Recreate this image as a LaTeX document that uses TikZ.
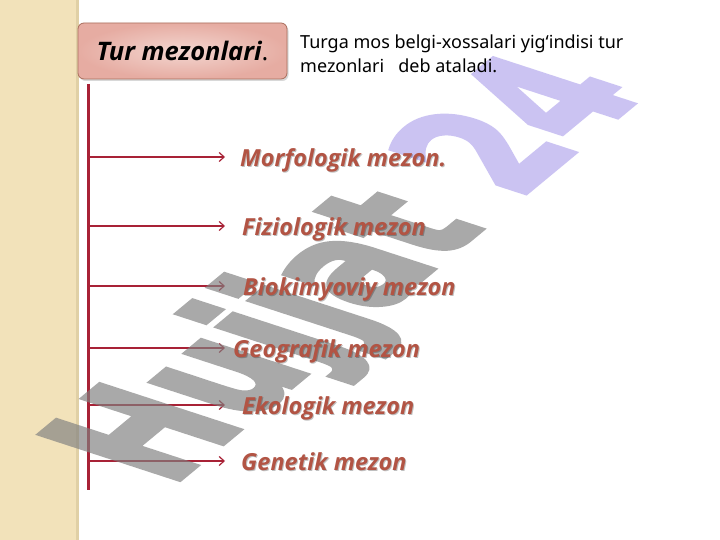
\documentclass[tikz,border=0pt]{standalone}
\usepackage{fontspec}
\setmainfont{Noto Sans}
\newfontfamily\lblfont{Open Sans}
\newfontfamily\wmfont{DejaVu Sans}[FakeBold=3.5]
\usetikzlibrary{arrows.meta,shadows}
\definecolor{strip}{RGB}{242,226,186}
\definecolor{stripedge}{RGB}{224,208,166}
\definecolor{linered}{RGB}{168,34,54}
\definecolor{lbl}{RGB}{178,84,68}
\definecolor{boxedge}{RGB}{170,110,92}
\definecolor{boxout}{RGB}{230,172,162}
\definecolor{boxin}{RGB}{243,214,208}
\definecolor{wmgray}{RGB}{128,128,128}
\definecolor{wmlav}{RGB}{178,166,237}
\tikzset{
  titlebox/.style={draw=boxedge, line width=0.8pt, rounded corners=6pt,
    inner color=boxin, outer color=boxout,
    drop shadow={shadow xshift=1.5pt, shadow yshift=-2pt, opacity=0.3},
    minimum width=209pt, minimum height=56pt, inner sep=0pt},
  desc/.style={anchor=base west, inner sep=0pt, font=\fontsize{18}{22}\selectfont},
  lblshadow/.style={anchor=base west, inner sep=0pt, text=black, text opacity=0.25,
    font=\lblfont\fontsize{23.5}{27}\selectfont\bfseries\itshape},
  lbltext/.style={anchor=base west, inner sep=0pt, text=lbl,
    font=\lblfont\fontsize{23.5}{27}\selectfont\bfseries\itshape},
  branch/.style={draw=linered, line width=1.8pt, -{Straight Barb[length=5pt,width=9pt,line width=1.2pt]}},
  stem/.style={draw=linered, line width=3pt}
}
\newcommand{\critlabel}[4]{%
  \node[lblshadow] at (#2+1,#3-1) {#4};
  \node[lbltext] (#1) at (#2,#3) {#4};}
\begin{document}
\begin{tikzpicture}[x=1pt,y=1pt]
\useasboundingbox (0,0) rectangle (720,540);
\fill[white] (0,0) rectangle (720,540);
% left strip
\fill[strip] (0,0) rectangle (77,540);
\fill[stripedge] (76,0) rectangle (79,540);
% title
\node[titlebox] (title) at (182.5,489) {\lblfont\fontsize{25.5}{30}\selectfont\bfseries\itshape Tur mezonlari\mdseries\upshape.};
% stem
\coordinate (vtop) at (88,456);
\coordinate (vbot) at (88,50);
\draw[stem] (vtop) -- (vbot);
% branches
\foreach \n/\y in {m/383,f/314,b/254,g/192,e/135,x/79}{
  \coordinate (s\n) at (88,\y);
  \coordinate (a\n) at (225,\y);
  \draw[branch] (s\n) -- (a\n);
}
% watermark
\begin{scope}[transparency group, opacity=0.67]
\begin{scope}[cm={0.93,0.77,-1.90,0.62,(170,53)}]
\node[anchor=base west, inner sep=0pt, transform shape, text=wmgray,
  font=\wmfont\bfseries\fontsize{100}{100}\selectfont] (wm) at (0,0) {Hujjat \textcolor{wmlav}{24}};
\end{scope}
\end{scope}
% description
\node[desc] (d1) at (300,491) {Turga mos belgi-xossalari yig‘indisi tur};
\node[desc] (d2) at (300,467) {mezonlari \ \ deb ataladi.};
% labels
\critlabel{lm}{240}{373}{Morfologik mezon.}
\critlabel{lf}{242}{304}{Fiziologik mezon}
\critlabel{lb}{243}{244}{Biokimyoviy mezon}
\critlabel{lg}{233}{182}{Geografik mezon}
\critlabel{le}{242}{125}{Ekologik mezon}
\critlabel{lx}{241}{69}{Genetik mezon}
\end{tikzpicture}
\end{document}
